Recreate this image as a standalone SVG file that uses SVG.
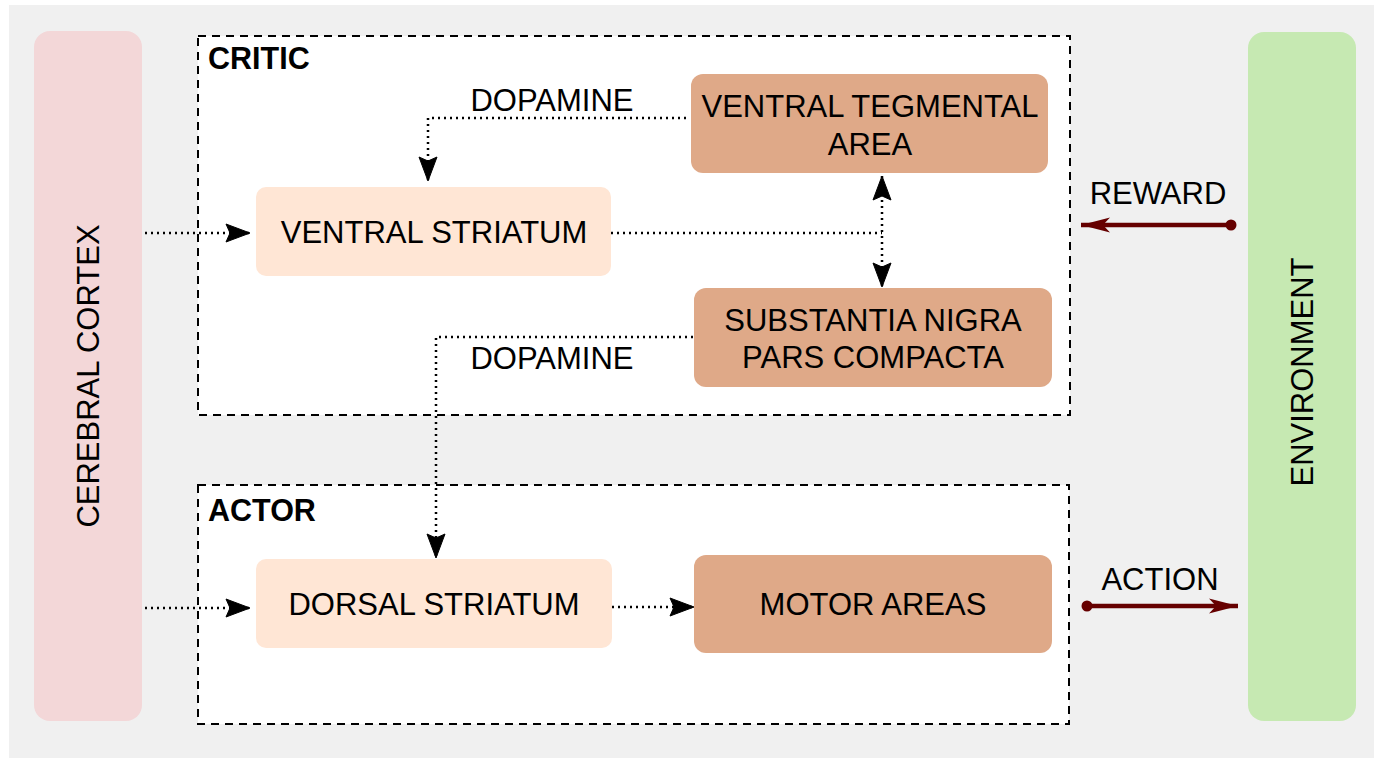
<svg xmlns="http://www.w3.org/2000/svg" width="1374" height="758" viewBox="0 0 1374 758">
<style>
.t{font-family:"Liberation Sans",Arial,sans-serif;font-size:31px;fill:#000;text-anchor:middle;dominant-baseline:central}
.b{font-family:"Liberation Sans",Arial,sans-serif;font-size:30.5px;font-weight:bold;fill:#000}
.grp{fill:#fff;stroke:#000;stroke-width:2;stroke-dasharray:8 6}
.dot{fill:none;stroke:#000;stroke-width:2.5;stroke-dasharray:2 4}
.light{fill:#FFE6D5}
.dark{fill:#DFA988}
.red{fill:none;stroke:#660000;stroke-width:4.5}
</style>
<defs>
<marker id="arr" markerUnits="userSpaceOnUse" markerWidth="28" markerHeight="22" refX="25" refY="10" orient="auto-start-reverse" viewBox="0 0 28 22">
<path d="M1,1 L25,10 L1,19 L5,10 Z" fill="#000" stroke="#000" stroke-width="1" stroke-linejoin="miter"/>
</marker>
<marker id="rarr" markerUnits="userSpaceOnUse" markerWidth="32" markerHeight="20" refX="29" refY="9" orient="auto" viewBox="0 0 32 20">
<path d="M0,1.5 L29,9 L0,16.5 L7,9 Z" fill="#660000"/>
</marker>
</defs>
<rect x="9" y="5" width="1365" height="753" fill="#F0F0F0"/>
<g id="critic">
<rect class="grp" x="198" y="36" width="872" height="379"/>
<text class="b" x="208" y="69">CRITIC</text>
</g>
<g id="actor">
<rect class="grp" x="198" y="485" width="871" height="239"/>
<text class="b" x="208" y="521">ACTOR</text>
</g>
<g id="cortex">
<rect x="34" y="31" width="108" height="690" rx="16" fill="#F3D7D8"/>
<text class="t" transform="translate(88,376) rotate(-90)">CEREBRAL CORTEX</text>
</g>
<g id="environment">
<rect x="1248" y="32" width="108" height="689" rx="16" fill="#C6E9B2"/>
<text class="t" transform="translate(1302,372) rotate(-90)">ENVIRONMENT</text>
</g>
<g id="ventral-striatum">
<rect class="light" x="256" y="187" width="355" height="89" rx="10"/>
<text class="t" x="434" y="232">VENTRAL STRIATUM</text>
</g>
<g id="vta">
<rect class="dark" x="691" y="74" width="357" height="99" rx="12"/>
<text class="t" x="870" y="106">VENTRAL TEGMENTAL</text>
<text class="t" x="870" y="144">AREA</text>
</g>
<g id="snpc">
<rect class="dark" x="694" y="288" width="358" height="99" rx="12"/>
<text class="t" x="873" y="320">SUBSTANTIA NIGRA</text>
<text class="t" x="873" y="357">PARS COMPACTA</text>
</g>
<g id="dorsal-striatum">
<rect class="light" x="256" y="559" width="356" height="89" rx="10"/>
<text class="t" x="434" y="604">DORSAL STRIATUM</text>
</g>
<g id="motor">
<rect class="dark" x="694" y="555" width="358" height="98" rx="12"/>
<text class="t" x="873" y="604">MOTOR AREAS</text>
</g>
<g id="connectors">
<path class="dot" d="M145,233 L250,233" marker-end="url(#arr)"/>
<path class="dot" d="M145,608 L250,608" marker-end="url(#arr)"/>
<path class="dot" d="M612,607 L694,607" marker-end="url(#arr)"/>
<path class="dot" d="M686,118 L428,118 L428,181" marker-end="url(#arr)"/>
<path class="dot" d="M693,337 L436,337 L436,558" marker-end="url(#arr)"/>
<path class="dot" d="M611,233 L882,233"/>
<path class="dot" d="M882,176 L882,287" marker-start="url(#arr)" marker-end="url(#arr)"/>
<text class="t" x="552" y="100">DOPAMINE</text>
<text class="t" x="552" y="358">DOPAMINE</text>
<path class="red" d="M1231,225 L1081,225" marker-end="url(#rarr)"/>
<circle cx="1231" cy="225" r="5.5" fill="#660000"/>
<text class="t" x="1158" y="193">REWARD</text>
<path class="red" d="M1087,606 L1238,606" marker-end="url(#rarr)"/>
<circle cx="1087" cy="606" r="5.5" fill="#660000"/>
<text class="t" x="1160" y="579">ACTION</text>
</g>
</svg>
